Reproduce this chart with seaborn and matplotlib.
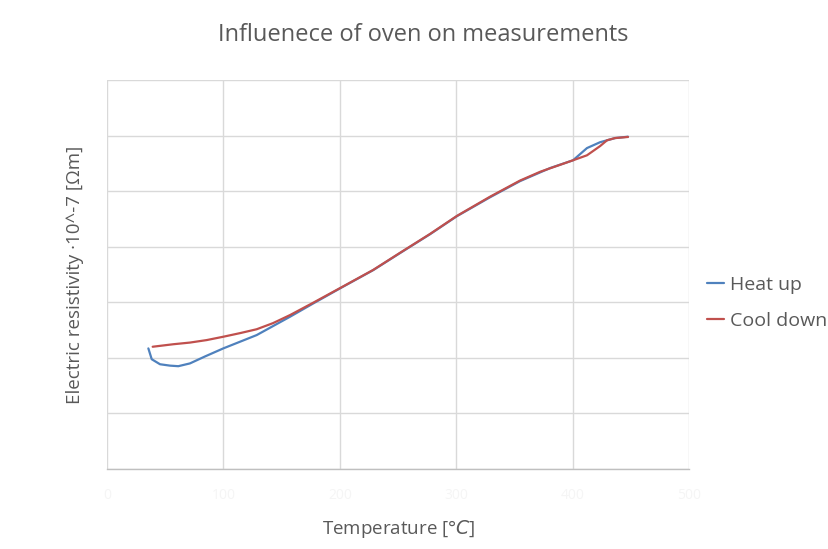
import numpy as np
import pandas as pd
import matplotlib
matplotlib.use("Agg")
import matplotlib.pyplot as plt
import seaborn as sns

# Heating run: temperature [°C] and electric resistivity [10^-7 Ωm]
heat_temp = [35.5, 38.4, 45.5, 54.1, 61.2, 71.2, 84.1, 99.8, 128.5, 157.1, 177.1,
             200.0, 228.6, 251.5, 277.3, 300.4, 328.8, 354.5, 380.3, 400.0,
             412.0, 423.2, 429.2, 436.1, 447.2]
heat_rho = [0.434, 0.395, 0.377, 0.372, 0.370, 0.380, 0.405, 0.434, 0.482, 0.548, 0.596,
            0.650, 0.716, 0.777, 0.845, 0.910, 0.978, 1.036, 1.083, 1.111,
            1.155, 1.176, 1.183, 1.191, 1.196]

# Cooling run
cool_temp = [39.2, 56.9, 71.2, 85.6, 99.8, 114.2, 128.5, 142.5, 157.1, 176.8,
             200.0, 228.3, 251.5, 277.3, 300.4, 328.8, 354.5, 372.0, 400.0,
             412.0, 423.2, 429.2, 436.1, 447.2]
cool_rho = [0.440, 0.449, 0.455, 0.464, 0.476, 0.489, 0.503, 0.525, 0.554, 0.598,
            0.651, 0.716, 0.778, 0.846, 0.911, 0.980, 1.038, 1.070, 1.111,
            1.129, 1.162, 1.183, 1.191, 1.195]

series_names = ["Heat up", "Cool down"]
x_ticks = [0, 100, 200, 300, 400, 500]
y_ticks = [0.0, 0.2, 0.4, 0.6, 0.8, 1.0, 1.2, 1.4]

df = pd.concat([
    pd.DataFrame({"T": heat_temp, "rho": heat_rho, "run": series_names[0]}),
    pd.DataFrame({"T": cool_temp, "rho": cool_rho, "run": series_names[1]}),
], ignore_index=True)

sns.set_theme(style="whitegrid")
plt.rcParams["font.family"] = ["Open Sans", "DejaVu Sans"]

text_col = "#595959"
grid_col = "#d9d9d9"

fig = plt.figure(figsize=(8.29, 5.49), dpi=100)
ax = fig.add_axes([107 / 829, 1 - 469 / 549, (689.5 - 107) / 829, (469 - 80) / 549])

sns.lineplot(data=df, x="T", y="rho", hue="run", sort=False, estimator=None,
             palette={"Heat up": "#4F81BD", "Cool down": "#C0504D"},
             linewidth=1.6, ax=ax)

ax.set_xlim(0, 500)
ax.set_ylim(0, 1.4)
ax.set_xticks(x_ticks)
ax.set_yticks(y_ticks)
ax.grid(True, color=grid_col, linewidth=1.0)
for side in ["top", "right", "left"]:
    ax.spines[side].set_visible(False)
ax.spines["bottom"].set_color("#bfbfbf")
ax.spines["bottom"].set_linewidth(1.0)
ax.tick_params(axis="x", colors="#f5f5f5", labelsize=10, length=0, pad=14)
ax.tick_params(axis="y", colors="white", labelsize=8, length=0, pad=3)

ax.set_xlabel("Temperature [°$C$]", fontsize=13.5, color=text_col, labelpad=10.5)
ax.set_ylabel("Electric resistivity ·10^-7 [Ωm]", fontsize=13.5, color=text_col)
ax.yaxis.set_label_coords(-23 / 582.5, 0.5)
fig.suptitle("Influenece of oven on measurements", fontsize=17, color=text_col,
             x=0.511, y=0.958)

leg = ax.legend(loc="center left", bbox_to_anchor=(1.0, 0.427), frameon=False,
                fontsize=14, handlelength=0.9, handletextpad=0.3, labelspacing=0.9)
for t in leg.get_texts():
    t.set_color(text_col)

fig.savefig("out.png", dpi=100, facecolor="white")
